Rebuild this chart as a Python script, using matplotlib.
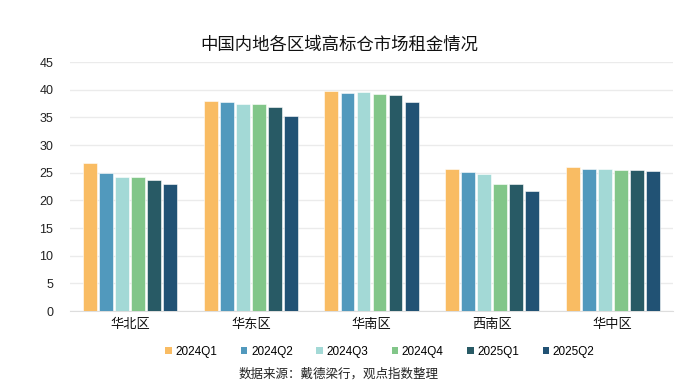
import matplotlib.pyplot as plt
import numpy as np
from matplotlib.patches import Patch

plt.rcParams['font.family'] = ['Noto Sans CJK SC', 'DejaVu Sans']

regions = ['华北区', '华东区', '华南区', '西南区', '华中区']
quarters = ['2024Q1', '2024Q2', '2024Q3', '2024Q4', '2025Q1', '2025Q2']
rent = {
    '2024Q1': [26.8, 38.0, 39.8, 25.7, 26.0],
    '2024Q2': [24.9, 37.8, 39.4, 25.2, 25.7],
    '2024Q3': [24.3, 37.5, 39.6, 24.8, 25.6],
    '2024Q4': [24.3, 37.4, 39.3, 23.0, 25.5],
    '2025Q1': [23.7, 36.9, 39.0, 22.9, 25.5],
    '2025Q2': [22.9, 35.2, 37.7, 21.6, 25.3],
}
colors = ['#F9BC63', '#5199BD', '#A3D9D6', '#82C689', '#285A65', '#215274']

fig = plt.figure(figsize=(6.78, 3.9), dpi=100)
ax = fig.add_axes([70 / 678, 1 - 311 / 390, 603 / 678, 249 / 390])

x = np.arange(len(regions))
step = 0.133
width = 0.115
for k, q in enumerate(quarters):
    ax.bar(x + (k - 2.5) * step, rent[q], width, color=colors[k],
           edgecolor='white', linewidth=0.4, zorder=3)

ax.set_xlim(-0.5, len(regions) - 0.5)
ax.set_ylim(0, 45)
ax.set_yticks(range(0, 46, 5))
ax.set_yticklabels([str(v) for v in range(0, 46, 5)], family=['Liberation Sans', 'DejaVu Sans'])
ax.set_xticks(x)
ax.set_xticklabels(regions, fontsize=9.5, color='#111111')
ax.tick_params(axis='y', labelsize=9, colors='#222222', length=0, pad=12)
ax.tick_params(axis='x', length=0, pad=5)
ax.grid(axis='y', color='#ebebeb', linewidth=1, zorder=0)
for spine in ('top', 'right', 'left'):
    ax.spines[spine].set_visible(False)
ax.spines['bottom'].set_color('#dddddd')

fig.text(0.5, 1 - 45 / 390, '中国内地各区域高标仓市场租金情况', ha='center', va='center',
         fontsize=12.5, color='#111111')

handles = [Patch(facecolor=c, edgecolor='none') for c in colors]
fig.legend(handles, quarters, loc='center', bbox_to_anchor=(380 / 678, 1 - 352 / 390),
           ncol=6, frameon=False, handlelength=0.55, handleheight=0.55,
           handletextpad=0.3, columnspacing=2.0,
           prop={'family': ['Liberation Sans', 'DejaVu Sans'], 'size': 8.5})

fig.text(0.5, 1 - 374 / 390, '数据来源：戴德梁行，观点指数整理', ha='center', va='center',
         fontsize=9, color='#222222')

fig.savefig('out.png', dpi=100, facecolor='white')
